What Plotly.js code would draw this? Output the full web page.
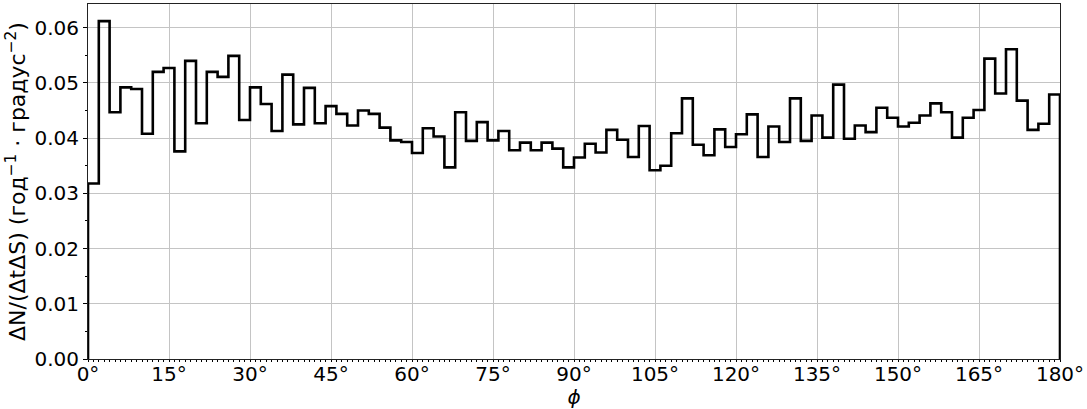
<!DOCTYPE html>
<html>
<head>
<meta charset="utf-8">
<script src="https://cdn.plot.ly/plotly-3.0.1.min.js"></script>
<style>
  html, body { margin: 0; padding: 0; background: #fff; }
  #chart { width: 1087px; height: 409px; }
</style>
</head>
<body>
<div id="chart"></div>
<script>
// Histogram of the azimuth angle phi: 2-degree bins from 0 to 180
const binStart = 0;
const binWidth = 2;
const rates = [
  0.0318, 0.0612, 0.0447, 0.0492, 0.0489, 0.0408, 0.0520, 0.0527, 0.0376, 0.0540,
  0.0427, 0.0520, 0.0511, 0.0549, 0.0433, 0.0492, 0.0462, 0.0413, 0.0515, 0.0425,
  0.0491, 0.0427, 0.0458, 0.0444, 0.0423, 0.0450, 0.0444, 0.0419, 0.0396, 0.0393,
  0.0373, 0.0418, 0.0403, 0.0347, 0.0447, 0.0395, 0.0429, 0.0396, 0.0413, 0.0378,
  0.0392, 0.0378, 0.0392, 0.0381, 0.0347, 0.0365, 0.0390, 0.0374, 0.0415, 0.0397,
  0.0366, 0.0422, 0.0342, 0.0350, 0.0409, 0.0472, 0.0388, 0.0369, 0.0416, 0.0384,
  0.0407, 0.0443, 0.0366, 0.0421, 0.0393, 0.0472, 0.0395, 0.0441, 0.0401, 0.0497,
  0.0399, 0.0423, 0.0411, 0.0455, 0.0437, 0.0421, 0.0428, 0.0441, 0.0463, 0.0447,
  0.0401, 0.0437, 0.0451, 0.0544, 0.0481, 0.0561, 0.0468, 0.0415, 0.0426, 0.0479
];
const xTickVals = [0, 15, 30, 45, 60, 75, 90, 105, 120, 135, 150, 165, 180];
const xTickText = xTickVals.map(v => v + '°');
const yTickVals = [0, 0.01, 0.02, 0.03, 0.04, 0.05, 0.06];

// Outline of a step histogram: rise from zero at the first edge,
// walk across the bins, drop back to zero at the last edge.
const n = rates.length;
const edges = rates.map((_, i) => binStart + i * binWidth);
const lastEdge = binStart + n * binWidth;
const stepX = [binStart].concat(edges, [lastEdge, lastEdge]);
const stepY = [0].concat(rates, [rates[n - 1], 0]);

const trace = {
  type: 'scatter',
  mode: 'lines',
  x: stepX,
  y: stepY,
  line: { shape: 'hv', color: '#000000', width: 2.6 },
  hoverinfo: 'skip'
};

const font = { family: 'DejaVu Sans, sans-serif', size: 20, color: '#000' };
const yTitleFont = { family: 'DejaVu Sans, sans-serif', size: 22, color: '#000' };

const layout = {
  width: 1087,
  height: 409,
  margin: { l: 88, r: 27, t: 4, b: 50 },
  paper_bgcolor: '#ffffff',
  plot_bgcolor: '#ffffff',
  showlegend: false,
  font: font,
  xaxis: {
    range: [0, 180],
    tickvals: xTickVals,
    ticktext: xTickText,
    ticks: 'outside',
    ticklen: 2,
    tickwidth: 1,
    tickcolor: '#000',
    ticklabelstandoff: -5,
    showline: true,
    mirror: true,
    linecolor: '#222',
    linewidth: 1,
    showgrid: true,
    gridcolor: '#c4c4c4',
    gridwidth: 1,
    zeroline: false,
    tickfont: font,
    minor: { dtick: 1, ticks: 'outside', ticklen: 2, tickcolor: '#000', showgrid: false },
    title: { text: '<i>ϕ</i>', font: font, standoff: 4 }
  },
  yaxis: {
    range: [0, 0.0643],
    tickvals: yTickVals,
    tickformat: '.2f',
    ticks: 'outside',
    ticklen: 4,
    tickwidth: 1,
    tickcolor: '#000',
    showline: true,
    mirror: true,
    linecolor: '#222',
    linewidth: 1,
    showgrid: true,
    gridcolor: '#c4c4c4',
    gridwidth: 1,
    zeroline: false,
    tickfont: font,
    minor: { dtick: 0.005, ticks: 'outside', ticklen: 2.5, tickcolor: '#000', showgrid: false },
    title: {
      text: 'ΔN/(ΔtΔS) (год<sup>−1</sup> · градус<sup>−2</sup>)',
      font: yTitleFont,
      standoff: 2
    }
  }
};

Plotly.newPlot('chart', [trace], layout, { staticPlot: true, displayModeBar: false });
</script>
</body>
</html>
